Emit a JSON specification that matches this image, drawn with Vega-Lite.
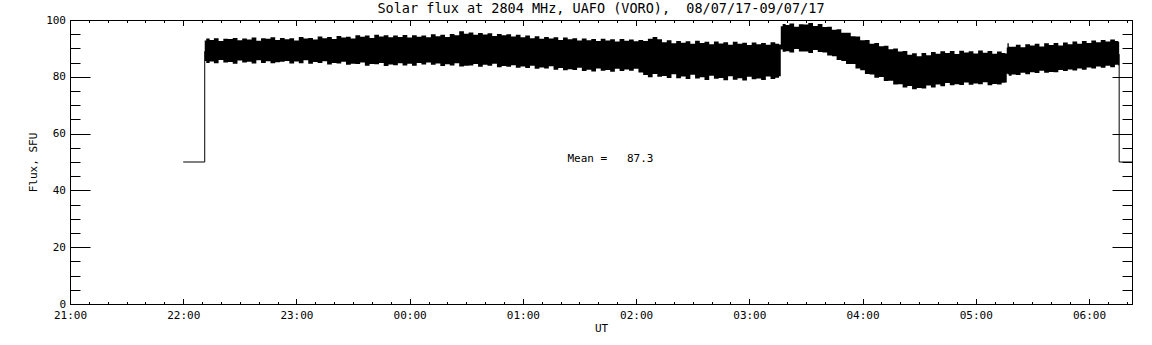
{
  "$schema": "https://vega.github.io/schema/vega-lite/v6.json",
  "width": 1062,
  "height": 284,
  "autosize": {"type": "none"},
  "padding": {"left": 70, "top": 20, "right": 20, "bottom": 41},
  "background": "white",
  "title": {"text": "Solar flux at 2804 MHz, UAFO (VORO),\u00a0 08/07/17-09/07/17", "font": "DejaVu Sans Mono", "fontSize": 13.5, "fontWeight": "normal", "color": "black", "anchor": "middle", "frame": "group", "baseline": "alphabetic", "offset": -12.8},
  "config": {
    "view": {"stroke": "black", "strokeWidth": 1},
    "axis": {"domainColor": "black", "tickColor": "black", "labelColor": "black", "titleColor": "black", "labelFont": "DejaVu Sans Mono", "labelFontSize": 11, "titleFont": "DejaVu Sans Mono", "titleFontSize": 11, "titleFontWeight": "normal", "grid": false, "domainWidth": 1, "tickWidth": 1, "labelFlush": false, "labelOverlap": false}
  },
  "resolve": {"axis": {"x": "independent", "y": "independent"}},
  "layer": [
    {
      "data": {"values": [
        {"t":"2017-07-08T22:11:24Z","hi":92.8,"lo":85.6},
        {"t":"2017-07-08T22:13:00Z","hi":93.5,"lo":84.9},
        {"t":"2017-07-08T22:15:00Z","hi":93.0,"lo":85.4},
        {"t":"2017-07-08T22:17:30Z","hi":93.6,"lo":84.8},
        {"t":"2017-07-08T22:20:00Z","hi":92.6,"lo":85.9},
        {"t":"2017-07-08T22:22:30Z","hi":93.4,"lo":85.0},
        {"t":"2017-07-08T22:25:00Z","hi":93.3,"lo":85.2},
        {"t":"2017-07-08T22:27:30Z","hi":93.7,"lo":84.6},
        {"t":"2017-07-08T22:30:00Z","hi":92.9,"lo":85.7},
        {"t":"2017-07-08T22:32:30Z","hi":93.5,"lo":85.0},
        {"t":"2017-07-08T22:35:00Z","hi":93.1,"lo":85.3},
        {"t":"2017-07-08T22:37:30Z","hi":93.8,"lo":84.7},
        {"t":"2017-07-08T22:40:00Z","hi":92.7,"lo":85.8},
        {"t":"2017-07-08T22:42:30Z","hi":93.6,"lo":84.9},
        {"t":"2017-07-08T22:45:00Z","hi":93.4,"lo":85.5},
        {"t":"2017-07-08T22:47:30Z","hi":93.9,"lo":84.8},
        {"t":"2017-07-08T22:50:00Z","hi":93.0,"lo":85.1},
        {"t":"2017-07-08T22:52:30Z","hi":93.7,"lo":85.3},
        {"t":"2017-07-08T22:55:00Z","hi":93.2,"lo":85.6},
        {"t":"2017-07-08T22:57:30Z","hi":93.6,"lo":84.7},
        {"t":"2017-07-08T23:00:00Z","hi":92.8,"lo":85.4},
        {"t":"2017-07-08T23:02:30Z","hi":94.0,"lo":84.8},
        {"t":"2017-07-08T23:05:00Z","hi":93.5,"lo":85.8},
        {"t":"2017-07-08T23:07:30Z","hi":93.7,"lo":84.6},
        {"t":"2017-07-08T23:10:00Z","hi":93.1,"lo":85.2},
        {"t":"2017-07-08T23:12:30Z","hi":94.2,"lo":84.9},
        {"t":"2017-07-08T23:15:00Z","hi":93.6,"lo":85.5},
        {"t":"2017-07-08T23:17:30Z","hi":94.0,"lo":84.3},
        {"t":"2017-07-08T23:20:00Z","hi":93.3,"lo":84.9},
        {"t":"2017-07-08T23:22:30Z","hi":94.4,"lo":84.7},
        {"t":"2017-07-08T23:25:00Z","hi":93.8,"lo":85.3},
        {"t":"2017-07-08T23:27:30Z","hi":94.1,"lo":84.2},
        {"t":"2017-07-08T23:30:00Z","hi":93.5,"lo":84.6},
        {"t":"2017-07-08T23:32:30Z","hi":94.6,"lo":84.5},
        {"t":"2017-07-08T23:35:00Z","hi":94.1,"lo":85.0},
        {"t":"2017-07-08T23:37:30Z","hi":94.5,"lo":83.9},
        {"t":"2017-07-08T23:40:00Z","hi":93.7,"lo":84.5},
        {"t":"2017-07-08T23:42:30Z","hi":94.8,"lo":84.4},
        {"t":"2017-07-08T23:45:00Z","hi":94.2,"lo":84.9},
        {"t":"2017-07-08T23:47:30Z","hi":94.6,"lo":83.8},
        {"t":"2017-07-08T23:50:00Z","hi":93.9,"lo":84.3},
        {"t":"2017-07-08T23:52:30Z","hi":94.5,"lo":84.1},
        {"t":"2017-07-08T23:55:00Z","hi":94.0,"lo":84.8},
        {"t":"2017-07-08T23:57:30Z","hi":94.7,"lo":84.0},
        {"t":"2017-07-09T00:00:00Z","hi":93.8,"lo":84.6},
        {"t":"2017-07-09T00:02:30Z","hi":94.6,"lo":83.9},
        {"t":"2017-07-09T00:05:00Z","hi":94.1,"lo":84.9},
        {"t":"2017-07-09T00:07:30Z","hi":94.5,"lo":84.3},
        {"t":"2017-07-09T00:10:00Z","hi":93.9,"lo":85.0},
        {"t":"2017-07-09T00:12:30Z","hi":95.0,"lo":84.2},
        {"t":"2017-07-09T00:15:00Z","hi":94.3,"lo":84.7},
        {"t":"2017-07-09T00:17:30Z","hi":94.8,"lo":83.8},
        {"t":"2017-07-09T00:20:00Z","hi":94.0,"lo":84.4},
        {"t":"2017-07-09T00:22:30Z","hi":95.1,"lo":84.0},
        {"t":"2017-07-09T00:25:00Z","hi":94.6,"lo":84.8},
        {"t":"2017-07-09T00:27:30Z","hi":96.0,"lo":83.6},
        {"t":"2017-07-09T00:30:00Z","hi":95.2,"lo":83.9},
        {"t":"2017-07-09T00:32:30Z","hi":95.6,"lo":84.0},
        {"t":"2017-07-09T00:35:00Z","hi":94.8,"lo":84.5},
        {"t":"2017-07-09T00:37:30Z","hi":95.4,"lo":83.5},
        {"t":"2017-07-09T00:40:00Z","hi":94.9,"lo":84.2},
        {"t":"2017-07-09T00:42:30Z","hi":95.3,"lo":83.9},
        {"t":"2017-07-09T00:45:00Z","hi":94.4,"lo":84.6},
        {"t":"2017-07-09T00:47:30Z","hi":95.1,"lo":83.4},
        {"t":"2017-07-09T00:50:00Z","hi":94.6,"lo":83.8},
        {"t":"2017-07-09T00:52:30Z","hi":95.0,"lo":83.5},
        {"t":"2017-07-09T00:55:00Z","hi":94.2,"lo":84.1},
        {"t":"2017-07-09T00:57:30Z","hi":94.8,"lo":83.2},
        {"t":"2017-07-09T01:00:00Z","hi":93.9,"lo":83.6},
        {"t":"2017-07-09T01:02:30Z","hi":94.5,"lo":83.1},
        {"t":"2017-07-09T01:05:00Z","hi":93.6,"lo":83.9},
        {"t":"2017-07-09T01:07:30Z","hi":94.3,"lo":82.8},
        {"t":"2017-07-09T01:10:00Z","hi":93.4,"lo":83.3},
        {"t":"2017-07-09T01:12:30Z","hi":94.0,"lo":82.9},
        {"t":"2017-07-09T01:15:00Z","hi":93.5,"lo":83.7},
        {"t":"2017-07-09T01:17:30Z","hi":93.9,"lo":82.5},
        {"t":"2017-07-09T01:20:00Z","hi":93.0,"lo":83.1},
        {"t":"2017-07-09T01:22:30Z","hi":93.8,"lo":82.3},
        {"t":"2017-07-09T01:25:00Z","hi":93.2,"lo":82.7},
        {"t":"2017-07-09T01:27:30Z","hi":93.6,"lo":82.4},
        {"t":"2017-07-09T01:30:00Z","hi":92.8,"lo":83.2},
        {"t":"2017-07-09T01:32:30Z","hi":93.5,"lo":82.0},
        {"t":"2017-07-09T01:35:00Z","hi":92.9,"lo":82.5},
        {"t":"2017-07-09T01:37:30Z","hi":93.3,"lo":81.9},
        {"t":"2017-07-09T01:40:00Z","hi":92.6,"lo":82.9},
        {"t":"2017-07-09T01:42:30Z","hi":93.4,"lo":82.1},
        {"t":"2017-07-09T01:45:00Z","hi":92.8,"lo":82.4},
        {"t":"2017-07-09T01:47:30Z","hi":93.2,"lo":81.8},
        {"t":"2017-07-09T01:50:00Z","hi":92.4,"lo":82.8},
        {"t":"2017-07-09T01:52:30Z","hi":93.3,"lo":82.0},
        {"t":"2017-07-09T01:55:00Z","hi":92.7,"lo":82.6},
        {"t":"2017-07-09T01:57:30Z","hi":93.1,"lo":82.1},
        {"t":"2017-07-09T02:00:00Z","hi":92.5,"lo":82.8},
        {"t":"2017-07-09T02:02:30Z","hi":93.0,"lo":81.5},
        {"t":"2017-07-09T02:05:00Z","hi":92.6,"lo":80.6},
        {"t":"2017-07-09T02:07:30Z","hi":93.4,"lo":79.8},
        {"t":"2017-07-09T02:10:00Z","hi":94.0,"lo":81.0},
        {"t":"2017-07-09T02:12:30Z","hi":93.2,"lo":80.0},
        {"t":"2017-07-09T02:15:00Z","hi":92.2,"lo":80.3},
        {"t":"2017-07-09T02:17:30Z","hi":92.9,"lo":79.6},
        {"t":"2017-07-09T02:20:00Z","hi":91.8,"lo":80.9},
        {"t":"2017-07-09T02:22:30Z","hi":92.6,"lo":79.5},
        {"t":"2017-07-09T02:25:00Z","hi":92.0,"lo":80.1},
        {"t":"2017-07-09T02:27:30Z","hi":92.5,"lo":79.2},
        {"t":"2017-07-09T02:30:00Z","hi":91.6,"lo":80.7},
        {"t":"2017-07-09T02:32:30Z","hi":92.7,"lo":79.4},
        {"t":"2017-07-09T02:35:00Z","hi":91.9,"lo":79.8},
        {"t":"2017-07-09T02:37:30Z","hi":92.3,"lo":78.9},
        {"t":"2017-07-09T02:40:00Z","hi":91.5,"lo":80.4},
        {"t":"2017-07-09T02:42:30Z","hi":92.4,"lo":79.3},
        {"t":"2017-07-09T02:45:00Z","hi":91.7,"lo":79.6},
        {"t":"2017-07-09T02:47:30Z","hi":92.2,"lo":78.8},
        {"t":"2017-07-09T02:50:00Z","hi":91.3,"lo":80.2},
        {"t":"2017-07-09T02:52:30Z","hi":92.3,"lo":79.0},
        {"t":"2017-07-09T02:55:00Z","hi":91.6,"lo":79.5},
        {"t":"2017-07-09T02:57:30Z","hi":92.0,"lo":78.7},
        {"t":"2017-07-09T03:00:00Z","hi":91.2,"lo":80.0},
        {"t":"2017-07-09T03:02:30Z","hi":92.1,"lo":79.1},
        {"t":"2017-07-09T03:05:00Z","hi":91.5,"lo":79.4},
        {"t":"2017-07-09T03:07:30Z","hi":91.9,"lo":78.9},
        {"t":"2017-07-09T03:10:00Z","hi":91.3,"lo":80.1},
        {"t":"2017-07-09T03:12:30Z","hi":92.2,"lo":79.2},
        {"t":"2017-07-09T03:15:00Z","hi":91.6,"lo":79.7},
        {"t":"2017-07-09T03:16:30Z","hi":91.4,"lo":80.2},
        {"t":"2017-07-09T03:16:50Z","hi":97.8,"lo":89.6},
        {"t":"2017-07-09T03:18:30Z","hi":98.6,"lo":88.8},
        {"t":"2017-07-09T03:20:00Z","hi":98.2,"lo":89.0},
        {"t":"2017-07-09T03:22:30Z","hi":98.8,"lo":88.6},
        {"t":"2017-07-09T03:25:00Z","hi":97.6,"lo":89.8},
        {"t":"2017-07-09T03:27:30Z","hi":98.5,"lo":88.9},
        {"t":"2017-07-09T03:30:00Z","hi":98.4,"lo":88.9},
        {"t":"2017-07-09T03:32:30Z","hi":98.9,"lo":88.4},
        {"t":"2017-07-09T03:35:00Z","hi":97.9,"lo":89.4},
        {"t":"2017-07-09T03:37:30Z","hi":98.6,"lo":88.7},
        {"t":"2017-07-09T03:40:00Z","hi":97.5,"lo":88.6},
        {"t":"2017-07-09T03:42:30Z","hi":97.6,"lo":87.5},
        {"t":"2017-07-09T03:45:00Z","hi":96.6,"lo":87.2},
        {"t":"2017-07-09T03:47:30Z","hi":96.7,"lo":85.9},
        {"t":"2017-07-09T03:50:00Z","hi":95.5,"lo":85.6},
        {"t":"2017-07-09T03:52:30Z","hi":95.5,"lo":84.5},
        {"t":"2017-07-09T03:55:00Z","hi":94.3,"lo":84.5},
        {"t":"2017-07-09T03:57:30Z","hi":94.2,"lo":82.9},
        {"t":"2017-07-09T04:00:00Z","hi":92.9,"lo":82.3},
        {"t":"2017-07-09T04:02:30Z","hi":93.0,"lo":81.0},
        {"t":"2017-07-09T04:05:00Z","hi":91.6,"lo":80.8},
        {"t":"2017-07-09T04:07:30Z","hi":91.9,"lo":79.7},
        {"t":"2017-07-09T04:10:00Z","hi":90.8,"lo":79.9},
        {"t":"2017-07-09T04:12:30Z","hi":90.9,"lo":78.5},
        {"t":"2017-07-09T04:15:00Z","hi":89.7,"lo":78.6},
        {"t":"2017-07-09T04:17:30Z","hi":90.0,"lo":77.3},
        {"t":"2017-07-09T04:20:00Z","hi":88.9,"lo":77.4},
        {"t":"2017-07-09T04:22:30Z","hi":89.1,"lo":76.2},
        {"t":"2017-07-09T04:25:00Z","hi":87.8,"lo":76.8},
        {"t":"2017-07-09T04:27:30Z","hi":88.3,"lo":75.6},
        {"t":"2017-07-09T04:30:00Z","hi":87.2,"lo":76.1},
        {"t":"2017-07-09T04:32:30Z","hi":88.4,"lo":75.9},
        {"t":"2017-07-09T04:35:00Z","hi":87.6,"lo":76.9},
        {"t":"2017-07-09T04:37:30Z","hi":88.7,"lo":76.2},
        {"t":"2017-07-09T04:40:00Z","hi":88.1,"lo":77.3},
        {"t":"2017-07-09T04:42:30Z","hi":89.0,"lo":76.7},
        {"t":"2017-07-09T04:45:00Z","hi":88.4,"lo":77.8},
        {"t":"2017-07-09T04:47:30Z","hi":89.1,"lo":77.0},
        {"t":"2017-07-09T04:50:00Z","hi":88.0,"lo":77.4},
        {"t":"2017-07-09T04:52:30Z","hi":89.2,"lo":77.1},
        {"t":"2017-07-09T04:55:00Z","hi":88.6,"lo":78.0},
        {"t":"2017-07-09T04:57:30Z","hi":89.0,"lo":77.2},
        {"t":"2017-07-09T05:00:00Z","hi":88.2,"lo":77.6},
        {"t":"2017-07-09T05:02:30Z","hi":89.3,"lo":77.4},
        {"t":"2017-07-09T05:05:00Z","hi":88.5,"lo":78.1},
        {"t":"2017-07-09T05:07:30Z","hi":89.1,"lo":77.0},
        {"t":"2017-07-09T05:10:00Z","hi":88.1,"lo":77.5},
        {"t":"2017-07-09T05:12:30Z","hi":88.9,"lo":77.3},
        {"t":"2017-07-09T05:15:00Z","hi":88.4,"lo":77.9},
        {"t":"2017-07-09T05:16:15Z","hi":88.2,"lo":78.0},
        {"t":"2017-07-09T05:16:35Z","hi":90.3,"lo":81.2},
        {"t":"2017-07-09T05:17:00Z","hi":91.8,"lo":80.9},
        {"t":"2017-07-09T05:18:00Z","hi":90.6,"lo":80.4},
        {"t":"2017-07-09T05:20:00Z","hi":90.6,"lo":80.8},
        {"t":"2017-07-09T05:22:30Z","hi":91.3,"lo":80.6},
        {"t":"2017-07-09T05:25:00Z","hi":90.4,"lo":81.4},
        {"t":"2017-07-09T05:27:30Z","hi":91.5,"lo":80.9},
        {"t":"2017-07-09T05:30:00Z","hi":91.0,"lo":81.6},
        {"t":"2017-07-09T05:32:30Z","hi":91.6,"lo":81.3},
        {"t":"2017-07-09T05:35:00Z","hi":90.7,"lo":82.1},
        {"t":"2017-07-09T05:37:30Z","hi":91.8,"lo":81.4},
        {"t":"2017-07-09T05:40:00Z","hi":91.2,"lo":81.7},
        {"t":"2017-07-09T05:42:30Z","hi":91.9,"lo":81.6},
        {"t":"2017-07-09T05:45:00Z","hi":91.0,"lo":82.4},
        {"t":"2017-07-09T05:47:30Z","hi":92.1,"lo":82.0},
        {"t":"2017-07-09T05:50:00Z","hi":91.5,"lo":82.6},
        {"t":"2017-07-09T05:52:30Z","hi":92.4,"lo":82.2},
        {"t":"2017-07-09T05:55:00Z","hi":91.6,"lo":82.9},
        {"t":"2017-07-09T05:57:30Z","hi":92.6,"lo":82.5},
        {"t":"2017-07-09T06:00:00Z","hi":91.9,"lo":83.3},
        {"t":"2017-07-09T06:02:30Z","hi":92.8,"lo":82.9},
        {"t":"2017-07-09T06:05:00Z","hi":92.2,"lo":83.6},
        {"t":"2017-07-09T06:07:30Z","hi":93.0,"lo":83.2},
        {"t":"2017-07-09T06:10:00Z","hi":92.4,"lo":83.9},
        {"t":"2017-07-09T06:12:30Z","hi":93.1,"lo":83.4},
        {"t":"2017-07-09T06:15:00Z","hi":92.6,"lo":84.2},
        {"t":"2017-07-09T06:16:00Z","hi":92.3,"lo":84.0}
      ]},
      "mark": {"type": "area", "color": "black", "interpolate": "step"},
      "encoding": {
        "x": {"field": "t", "type": "temporal",
          "scale": {"type": "utc", "nice": false, "domain": [1499547600000, 1499581368000]},
          "axis": {"orient": "bottom", "values": [1499547600000, 1499551200000, 1499554800000, 1499558400000, 1499562000000, 1499565600000, 1499569200000, 1499572800000, 1499576400000, 1499580000000], "format": "%H:%M", "tickSize": -5.5, "labelPadding": 11, "title": "UT", "titlePadding": 2}},
        "y": {"field": "lo", "type": "quantitative",
          "scale": {"domain": [0, 100], "nice": false},
          "axis": {"orient": "left", "values": [0, 20, 40, 60, 80, 100], "tickSize": -20, "labelPadding": 24.5, "title": "Flux, SFU", "titlePadding": 7}},
        "y2": {"field": "hi"}
      }
    },
    {
      "data": {"values": [
        {"i": 0, "seg": "a", "t": "2017-07-08T22:00:00Z", "v": 50},
        {"i": 1, "seg": "a", "t": "2017-07-08T22:11:24Z", "v": 50},
        {"i": 2, "seg": "a", "t": "2017-07-08T22:11:24Z", "v": 89},
        {"i": 3, "seg": "b", "t": "2017-07-09T06:16:00Z", "v": 88},
        {"i": 4, "seg": "b", "t": "2017-07-09T06:16:00Z", "v": 50},
        {"i": 5, "seg": "b", "t": "2017-07-09T06:22:48Z", "v": 50}
      ]},
      "mark": {"type": "line", "color": "black", "strokeWidth": 1, "clip": true},
      "encoding": {
        "x": {"field": "t", "type": "temporal",
          "scale": {"type": "utc", "nice": false, "domain": [1499547600000, 1499581368000]},
          "axis": {"orient": "bottom", "values": [1499547600000,1499548200000,1499548800000,1499549400000,1499550000000,1499550600000,1499551200000,1499551800000,1499552400000,1499553000000,1499553600000,1499554200000,1499554800000,1499555400000,1499556000000,1499556600000,1499557200000,1499557800000,1499558400000,1499559000000,1499559600000,1499560200000,1499560800000,1499561400000,1499562000000,1499562600000,1499563200000,1499563800000,1499564400000,1499565000000,1499565600000,1499566200000,1499566800000,1499567400000,1499568000000,1499568600000,1499569200000,1499569800000,1499570400000,1499571000000,1499571600000,1499572200000,1499572800000,1499573400000,1499574000000,1499574600000,1499575200000,1499575800000,1499576400000,1499577000000,1499577600000,1499578200000,1499578800000,1499579400000,1499580000000,1499580600000,1499581200000], "labels": false, "domain": false, "tickSize": -2.5, "title": null}},
        "y": {"field": "v", "type": "quantitative",
          "scale": {"domain": [0, 100], "nice": false},
          "axis": {"orient": "left", "values": [0,5,10,15,20,25,30,35,40,45,50,55,60,65,70,75,80,85,90,95,100], "labels": false, "domain": false, "tickSize": -10, "title": null}},
        "detail": {"field": "seg"},
        "order": {"field": "i", "type": "quantitative"}
      }
    },
    {
      "data": {"values": [{"t": "2017-07-09T01:23:35Z", "v": 50, "label": "Mean =\u00a0\u00a0\u00a087.3"}]},
      "mark": {"type": "text", "align": "left", "baseline": "alphabetic", "font": "DejaVu Sans Mono", "fontSize": 11, "color": "black"},
      "encoding": {
        "x": {"field": "t", "type": "temporal",
          "scale": {"type": "utc", "nice": false, "domain": [1499547600000, 1499581368000]},
          "axis": {"orient": "top", "values": [1499547600000, 1499551200000, 1499554800000, 1499558400000, 1499562000000, 1499565600000, 1499569200000, 1499572800000, 1499576400000, 1499580000000], "labels": false, "tickSize": -5.5, "title": null}},
        "y": {"field": "v", "type": "quantitative",
          "scale": {"domain": [0, 100], "nice": false},
          "axis": {"orient": "right", "values": [0, 20, 40, 60, 80, 100], "labels": false, "tickSize": -20, "title": null}},
        "text": {"field": "label"}
      }
    },
    {
      "data": {"values": [{"t": "2017-07-09T01:23:35Z", "v": 50}]},
      "mark": {"type": "point", "opacity": 0},
      "encoding": {
        "x": {"field": "t", "type": "temporal",
          "scale": {"type": "utc", "nice": false, "domain": [1499547600000, 1499581368000]},
          "axis": {"orient": "top", "values": [1499547600000,1499548200000,1499548800000,1499549400000,1499550000000,1499550600000,1499551200000,1499551800000,1499552400000,1499553000000,1499553600000,1499554200000,1499554800000,1499555400000,1499556000000,1499556600000,1499557200000,1499557800000,1499558400000,1499559000000,1499559600000,1499560200000,1499560800000,1499561400000,1499562000000,1499562600000,1499563200000,1499563800000,1499564400000,1499565000000,1499565600000,1499566200000,1499566800000,1499567400000,1499568000000,1499568600000,1499569200000,1499569800000,1499570400000,1499571000000,1499571600000,1499572200000,1499572800000,1499573400000,1499574000000,1499574600000,1499575200000,1499575800000,1499576400000,1499577000000,1499577600000,1499578200000,1499578800000,1499579400000,1499580000000,1499580600000,1499581200000], "labels": false, "domain": false, "tickSize": -2.5, "title": null}},
        "y": {"field": "v", "type": "quantitative",
          "scale": {"domain": [0, 100], "nice": false},
          "axis": {"orient": "right", "values": [0,5,10,15,20,25,30,35,40,45,50,55,60,65,70,75,80,85,90,95,100], "labels": false, "domain": false, "tickSize": -10, "title": null}}
      }
    }
  ]
}
